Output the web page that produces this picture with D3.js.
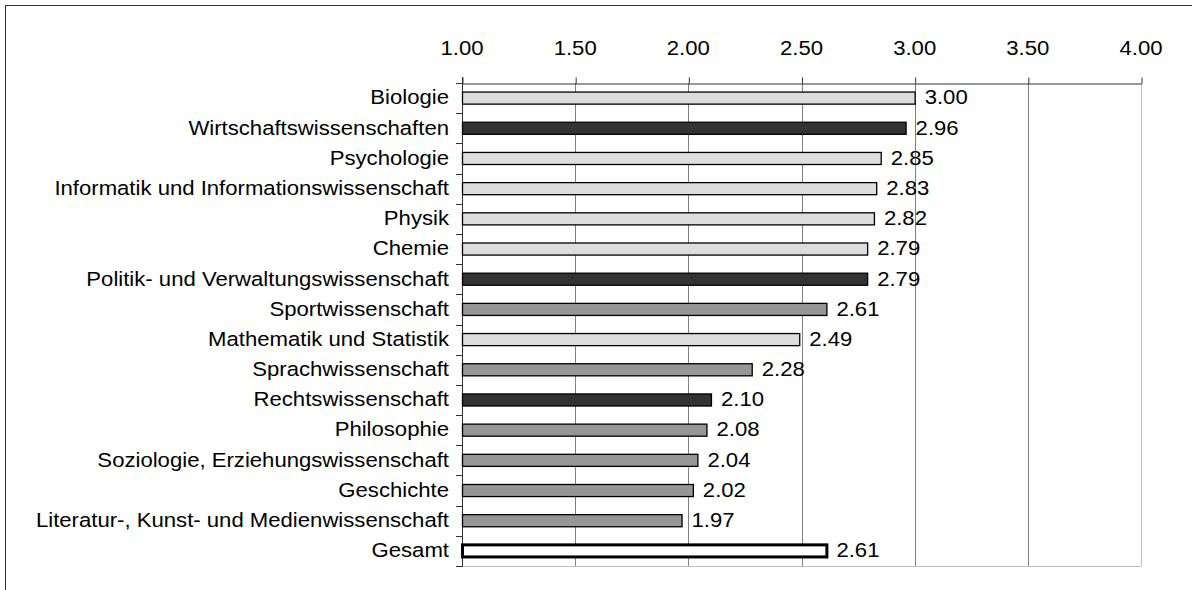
<!DOCTYPE html>
<html>
<head>
<meta charset="utf-8">
<script src="https://cdn.jsdelivr.net/npm/d3@7"></script>
<style>
  html, body { margin: 0; padding: 0; background: #fff; }
  svg { display: block; }
  text { font-family: "Liberation Sans", Arial, sans-serif; fill: #000; }
</style>
</head>
<body>
<svg id="chart" width="1192" height="590"></svg>
<script>
// Subjects, top to bottom
const categories = [
  "Biologie",
  "Wirtschaftswissenschaften",
  "Psychologie",
  "Informatik und Informationswissenschaft",
  "Physik",
  "Chemie",
  "Politik- und Verwaltungswissenschaft",
  "Sportwissenschaft",
  "Mathematik und Statistik",
  "Sprachwissenschaft",
  "Rechtswissenschaft",
  "Philosophie",
  "Soziologie, Erziehungswissenschaft",
  "Geschichte",
  "Literatur-, Kunst- und Medienwissenschaft",
  "Gesamt"
];
// Mean score per subject
const values = [3.00, 2.96, 2.85, 2.83, 2.82, 2.79, 2.79, 2.61, 2.49, 2.28, 2.10, 2.08, 2.04, 2.02, 1.97, 2.61];
// Subject group of each bar
const groups = ["nat", "wiso", "nat", "nat", "nat", "nat", "wiso", "geist", "nat", "geist",
                "wiso", "geist", "geist", "geist", "geist", "total"];
// Axis ticks
const tickValues = [1.00, 1.50, 2.00, 2.50, 3.00, 3.50, 4.00];

const fillByGroup = { nat: "#dddddd", wiso: "#333333", geist: "#969696", total: "#ffffff" };
const FONT = 19.5;
const SX = 1.135; // slightly widened glyphs

const svg = d3.select("#chart");

// outer frame
svg.append("rect")
  .attr("x", 5.5).attr("y", 5.5)
  .attr("width", 1200).attr("height", 600)
  .attr("fill", "none").attr("stroke", "#333").attr("stroke-width", 1);

const x = d3.scaleLinear().domain([1, 4]).range([462, 1141]);
const y = d3.scaleBand().domain(categories).range([83, 566]).paddingInner(0.6).paddingOuter(0.3);
const step = y.step();
const fmt = d3.format(".2f");

function label(g, tx, ty, str, anchor) {
  return g.append("text")
    .attr("transform", `translate(${tx},${ty}) scale(${SX},1)`)
    .attr("text-anchor", anchor)
    .attr("dy", "0.35em")
    .style("font-size", FONT + "px")
    .text(str);
}

// vertical gridlines
const grid = svg.append("g");
grid.selectAll("line")
  .data(tickValues.slice(1))
  .join("line")
  .attr("x1", d => Math.round(x(d)) + 0.5).attr("x2", d => Math.round(x(d)) + 0.5)
  .attr("y1", y.range()[0]).attr("y2", y.range()[1])
  .attr("stroke", d => d === 4 ? "#c0c0c0" : "#808080")
  .attr("stroke-width", 1);

// bottom line
svg.append("line")
  .attr("x1", x(1)).attr("x2", x(4))
  .attr("y1", y.range()[1] + 0.5).attr("y2", y.range()[1] + 0.5)
  .attr("stroke", "#c0c0c0");

// top axis
const topAxis = svg.append("g")
  .attr("transform", `translate(0.5,${y.range()[0] + 0.5})`)
  .call(d3.axisTop(x).tickValues(tickValues).tickSize(6).tickSizeOuter(0).tickFormat(""));
topAxis.select(".domain").attr("stroke", "#333");
topAxis.selectAll(".tick line").attr("stroke", "#333");
const topLabels = svg.append("g");
tickValues.forEach(v => label(topLabels, x(v), 48, fmt(v), "middle"));

// left axis with ticks at category boundaries
const leftAxis = svg.append("g");
leftAxis.append("line")
  .attr("x1", x(1) + 0.5).attr("x2", x(1) + 0.5)
  .attr("y1", y.range()[0] - 6).attr("y2", y.range()[1] + 1)
  .attr("stroke", "#333");
leftAxis.selectAll("line.tick")
  .data(d3.range(categories.length + 1))
  .join("line")
  .attr("class", "tick")
  .attr("x1", x(1) - 6).attr("x2", x(1))
  .attr("y1", i => Math.round(y.range()[0] + i * step) + 0.5)
  .attr("y2", i => Math.round(y.range()[0] + i * step) + 0.5)
  .attr("stroke", "#333");

// category labels
const catLabels = svg.append("g");
categories.forEach(c => label(catLabels, x(1) - 13, y(c) + y.bandwidth() / 2 - 0.5, c, "end"));

// bars
svg.append("g").selectAll("rect")
  .data(categories)
  .join("rect")
  .attr("x", x(1) + 0.5)
  .attr("y", (c) => y(c))
  .attr("width", (c, i) => x(values[i]) - x(1))
  .attr("height", y.bandwidth())
  .attr("fill", (c, i) => fillByGroup[groups[i]])
  .attr("stroke", "#000")
  .attr("stroke-width", (c, i) => groups[i] === "total" ? 3 : 1.3);

// value labels
const valLabels = svg.append("g");
categories.forEach((c, i) => label(valLabels, x(values[i]) + 10, y(c) + y.bandwidth() / 2 - 0.5, fmt(values[i]), "start"));
</script>
</body>
</html>
